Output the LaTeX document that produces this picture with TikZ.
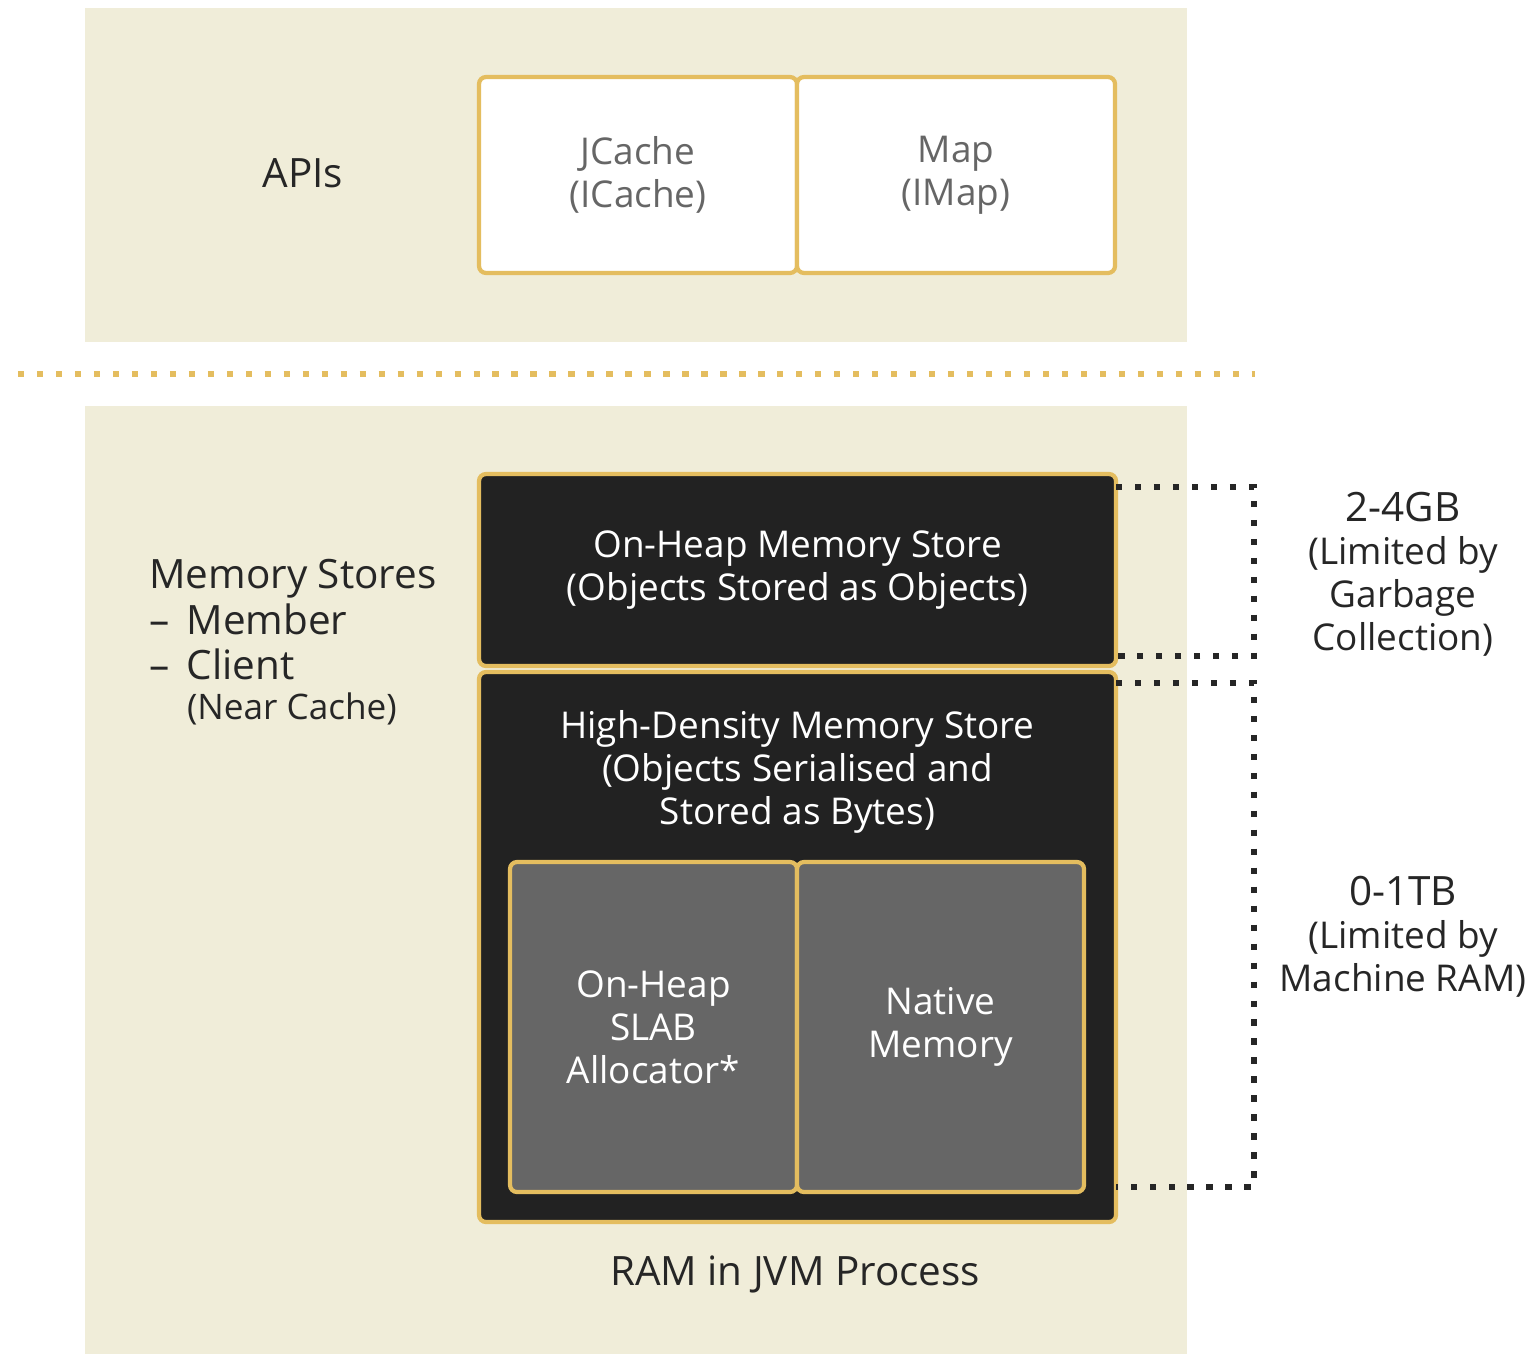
\documentclass[tikz,border=0pt]{standalone}
\usepackage{fontspec}
\setmainfont{Open Sans}
\usetikzlibrary{positioning,calc}
\definecolor{cream}{HTML}{F0EDD9}
\definecolor{gold}{HTML}{E4BD5F}
\definecolor{darkbox}{HTML}{222222}
\definecolor{greybox}{HTML}{666666}
\definecolor{txtdark}{HTML}{262626}
\definecolor{txtgrey}{HTML}{666666}
\tikzset{
  panel/.style={fill=cream,draw=none},
  apiblk/.style={draw=gold,line width=1.2pt,fill=white,rounded corners=2pt,outer sep=0pt,minimum width=3.18cm,minimum height=1.96cm,align=center,text=txtgrey,font=\fontsize{10.5}{12.2}\selectfont},
  storeblk/.style={draw=gold,line width=1.2pt,fill=darkbox,rounded corners=2pt,outer sep=0pt,minimum width=6.37cm,align=center,text=white,font=\fontsize{10.5}{12.2}\selectfont},
  subblk/.style={draw=gold,line width=1.2pt,fill=greybox,rounded corners=2pt,outer sep=0pt,minimum width=2.87cm,minimum height=3.30cm,align=center,text=white,font=\fontsize{10.5}{12.2}\selectfont},
  lbl/.style={text=txtdark,align=center,font=\fontsize{10.5}{12.2}\selectfont},
  biglbl/.style={text=txtdark,font=\fontsize{11.5}{13.4}\selectfont},
  brk/.style={line width=1.5pt,dash pattern=on 1.8pt off 3.6pt,draw=txtdark},
  sep/.style={line width=1.6pt,dash pattern=on 1.8pt off 3.6pt,draw=gold}
}
\begin{document}
\begin{tikzpicture}
  \useasboundingbox (0,0) rectangle (15.34,-13.54);
  % panels
  \fill[panel] (0.85,-0.08) rectangle (11.87,-3.42);
  \fill[panel] (0.85,-4.06) rectangle (11.87,-13.54);
  \coordinate (sepl) at (0.18,-3.74);
  \coordinate (sepr) at (12.55,-3.74);
  \draw[sep] (sepl) -- (sepr);

  % APIs
  \node[biglbl] (apis) at (3.03,-1.73) {APIs};
  \node[apiblk] (jcache) at (6.38,-1.75) {JCache\\(ICache)};
  \node[apiblk, right=0cm of jcache] (map) {Map\\(IMap)};

  % memory stores
  \node[biglbl, anchor=north west, align=left] (stores) at (1.37,-5.47)
    {Memory Stores\\[-0.5pt]
     –\hspace{0.42em}Member\\[-0.5pt]
     –\hspace{0.42em}Client\\[-2pt]
     \hspace{0.93em}{\fontsize{10}{12}\selectfont(Near Cache)}};

  \node[storeblk, minimum height=1.92cm] (onheap) at (7.975,-5.70)
    {On-Heap Memory Store\\(Objects Stored as Objects)};
  \node[storeblk, minimum height=5.50cm] (hd) at (7.975,-9.47) {};
  \node[lbl, text=white, below=0.26cm of hd.north] (hdtxt)
    {High-Density Memory Store\\(Objects Serialised and\\Stored as Bytes)};
  \node[subblk] (slab) at (6.535,-10.27) {On-Heap\\SLAB\\Allocator*};
  \node[subblk, right=0cm of slab] (native) {Native\\Memory};

  \node[biglbl] (ram) at (7.95,-12.74) {RAM in JVM Process};

  % brackets
  \draw[brk] ([yshift=-0.13cm]onheap.north east) -- ++(1.38,0) |- ([yshift=0.10cm]onheap.south east);
  \draw[brk] ([yshift=-0.11cm]hd.north east) -- ++(1.38,0) |- ([yshift=0.35cm]hd.south east);

  \node[lbl, anchor=north] (gc) at (14.03,-4.80)
    {{\fontsize{11.5}{13}\selectfont 2-4GB}\\(Limited by\\Garbage\\Collection)};
  \node[lbl, anchor=north] (ramlim) at (14.03,-8.64)
    {{\fontsize{11.5}{13}\selectfont 0-1TB}\\(Limited by\\Machine RAM)};
\end{tikzpicture}
\end{document}
